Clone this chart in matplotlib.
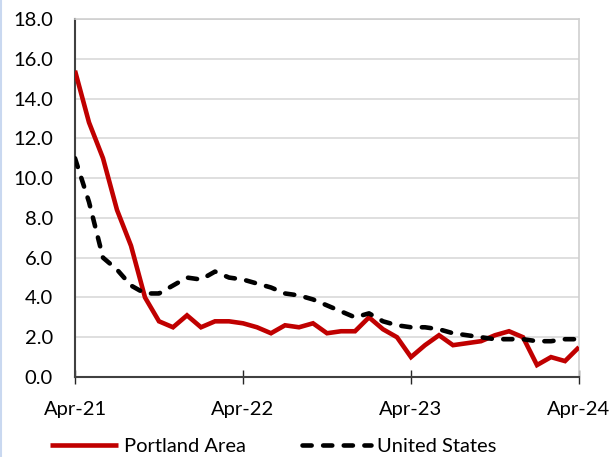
import matplotlib
matplotlib.use("Agg")
import matplotlib.pyplot as plt
from matplotlib.lines import Line2D
import numpy as np

plt.rcParams['font.family'] = ['Lato', 'DejaVu Sans']

months = list(range(37))
portland = [15.4, 12.8, 11.0, 8.4, 6.6, 4.0, 2.8, 2.5, 3.1, 2.5, 2.8, 2.8, 2.7,
            2.5, 2.2, 2.6, 2.5, 2.7, 2.2, 2.3, 2.3, 3.0, 2.4, 2.0, 1.0,
            1.6, 2.1, 1.6, 1.7, 1.8, 2.1, 2.3, 2.0, 0.6, 1.0, 0.8, 1.5]
united_states = [11.0, 8.8, 6.0, 5.4, 4.6, 4.2, 4.2, 4.6, 5.0, 4.9, 5.3, 5.0, 4.9,
                 4.7, 4.5, 4.2, 4.1, 3.9, 3.6, 3.3, 3.0, 3.2, 2.8, 2.6, 2.5,
                 2.5, 2.4, 2.2, 2.1, 2.0, 1.9, 1.9, 1.9, 1.8, 1.8, 1.9, 1.9]
x_tick_pos = [0, 12, 24, 36]
x_tick_labels = ["Apr-21", "Apr-22", "Apr-23", "Apr-24"]
y_ticks = [0, 2, 4, 6, 8, 10, 12, 14, 16, 18]

fig = plt.figure(figsize=(6.16, 4.57), dpi=100)
ax = fig.add_axes([75/616, 1-377/457, (579-75)/616, (377-19)/457])

ax.plot(months, portland, color='#c00000', lw=3.3, solid_capstyle='butt',
        solid_joinstyle='miter', label='Portland Area', zorder=3)
ax.plot(months, united_states, color='black', lw=3.3, dashes=(2.0, 2.5),
        dash_capstyle='round', label='United States', zorder=3)

ax.set_xlim(0, 36)
ax.set_ylim(0, 18)
ax.set_yticks(y_ticks)
ax.set_yticklabels([f"{v:.1f}" for v in y_ticks], fontsize=14.5)
ax.set_xticks(x_tick_pos)
ax.set_xticklabels(x_tick_labels, fontsize=14.5)
ax.tick_params(axis='y', length=0, pad=16)
ax.tick_params(axis='x', direction='inout', length=10, width=1.0, color='#262626', pad=12)
ax.grid(axis='y', color='#d9d9d9', lw=1.2, zorder=0)
ax.set_axisbelow(True)
for s in ['left', 'bottom']:
    ax.spines[s].set_color('#404040')
    ax.spines[s].set_linewidth(1.5)
for s in ['top', 'right']:
    ax.spines[s].set_color('#cfcfcf')
    ax.spines[s].set_linewidth(1.2)

fig.legend(loc='lower center', bbox_to_anchor=(0.443, -0.035), ncol=2, frameon=False,
           fontsize=14.5, handlelength=3.4, columnspacing=2.8, handletextpad=0.3)

fig.add_artist(Line2D([1/616, 1/616], [0, 1], transform=fig.transFigure,
                      color='#c9d8f0', lw=1.5))

fig.savefig('out.png', dpi=100)
